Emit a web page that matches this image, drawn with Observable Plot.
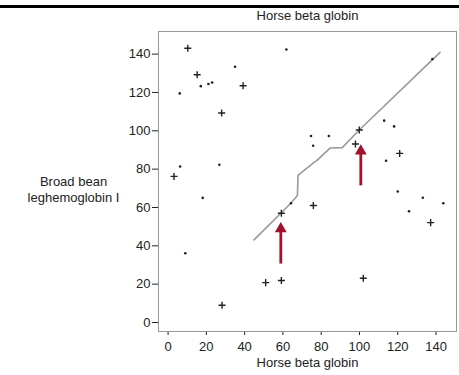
<!DOCTYPE html>
<html><head><meta charset="utf-8">
<script src="https://cdn.jsdelivr.net/npm/d3@7"></script>
<script src="https://cdn.jsdelivr.net/npm/@observablehq/plot@0.6"></script>
<style>
html,body{margin:0;padding:0;background:#fff;}
#wrap{position:relative;width:459px;height:375px;overflow:hidden;}
#wrap svg{display:block;}
#bar{position:absolute;left:0;top:5px;width:459px;height:3px;background:#000;}
</style></head><body><div id="wrap"><div id="bar"></div></div>
<script>
const titleText = "Horse beta globin";
const xLabel = "Horse beta globin";
const yLabel = "Broad bean\nleghemoglobin I";
const ticks = [0, 20, 40, 60, 80, 100, 120, 140];

// "+" marks (strong matches)
const plusX = [10.3, 15.2, 39.2, 28.0, 3.1, 28.2, 51.0, 59.2, 59.2, 99.9, 97.9, 121.0, 75.9, 137.2, 102.0];
const plusY = [143.1, 129.2, 123.5, 109.3, 76.2, 9.0, 20.8, 21.9, 57.0, 100.4, 93.1, 88.2, 61.0, 52.1, 23.1];

// small dots (weak matches)
const dotX = [61.8, 35.0, 17.1, 21.1, 23.0, 6.1, 6.3, 26.8, 18.1, 9.0, 64.2, 138.1, 112.9, 118.1, 74.7, 84.0, 75.8, 113.9, 120.0, 133.1, 143.8, 125.9];
const dotY = [142.4, 133.4, 123.3, 124.4, 125.2, 119.5, 81.4, 82.3, 65.0, 36.1, 62.2, 137.4, 105.3, 102.3, 97.3, 97.3, 92.2, 84.4, 68.3, 65.1, 62.2, 58.0];

// alignment path
const pathX = [44.9, 58.9, 64.1, 67.6, 67.9, 75.6, 77.7, 84.6, 91.0, 99.9, 142.1];
const pathY = [43.1, 57.0, 62.2, 66.2, 76.8, 83.0, 84.4, 91.0, 91.2, 100.4, 140.9];

// red arrows
const arrowX = [58.9, 100.7];
const arrowTailY = [32.3, 73.1];
const arrowTipY = [52.3, 92.8];

const idx = (a) => d3.range(a.length);
const red = "#a3122c";
const ink = "#222";

const chart = Plot.plot({
  width: 459,
  height: 375,
  marginTop: 31,
  marginBottom: 44,
  marginLeft: 158,
  marginRight: 3,
  style: {fontFamily: "'Liberation Sans', Arial, sans-serif", fontSize: "13px", color: ink, background: "#fff"},
  x: {domain: [-5, 150.7], ticks: ticks, tickSize: 4, tickPadding: 6, label: null},
  y: {domain: [-4.7, 151.8], ticks: ticks, tickSize: 6, tickPadding: 2, label: null},
  marks: [
    Plot.frame({stroke: "#999", strokeWidth: 1}),
    Plot.line(idx(pathX), {x: pathX, y: pathY, stroke: "#9a9a9a", strokeWidth: 1.6}),
    Plot.dot(idx(dotX), {x: dotX, y: dotY, r: 1.3, fill: ink, stroke: null}),
    Plot.dot(idx(plusX), {x: plusX, y: plusY, symbol: "plus", r: 2.4, stroke: ink, strokeWidth: 1.4}),
    Plot.link(idx(arrowX), {x1: arrowX, x2: arrowX, y1: arrowTailY, y2: arrowTipY, stroke: red, strokeWidth: 2.8, dy: 3}),
    Plot.dot(idx(arrowX), {x: arrowX, y: arrowTipY, symbol: "triangle", r: 4.4, fill: red, stroke: null, dy: 6.5}),
    Plot.text([titleText], {frameAnchor: "top", dy: -15.5, lineAnchor: "middle", fill: ink, fontSize: 13}),
    Plot.text([xLabel], {frameAnchor: "bottom", dy: 31, lineAnchor: "middle", fill: ink, fontSize: 13}),
    Plot.text([yLabel], {frameAnchor: "left", dx: -85, dy: 7, textAnchor: "middle", lineAnchor: "middle", lineHeight: 1.23, fill: ink, fontSize: 13})
  ]
});
document.getElementById("wrap").appendChild(chart);
</script>
</body></html>
